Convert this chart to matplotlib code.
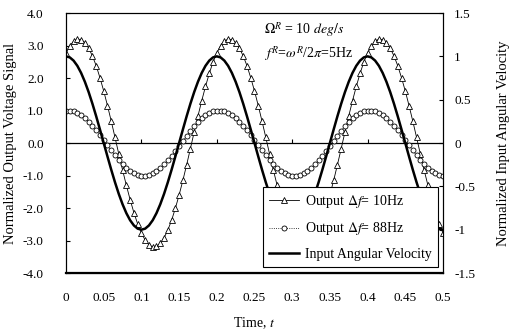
import numpy as np
import matplotlib
matplotlib.use("Agg")
import matplotlib.pyplot as plt

plt.rcParams['font.family'] = ['Liberation Serif', 'DejaVu Serif']
plt.rcParams['mathtext.fontset'] = 'stix'
plt.rcParams['font.size'] = 9.5

# sample times (s), one point every 5 ms
time_s = np.round(np.arange(0, 0.5001, 0.005), 3)

# output, delta f = 10 Hz (left axis)
out_10hz = [2.77, 2.99, 3.13, 3.20, 3.18, 3.09, 2.92, 2.68, 2.38, 2.01,
            1.60, 1.15, 0.67, 0.17, -0.34, -0.83, -1.30, -1.74, -2.14, -2.49,
            -2.77, -2.99, -3.13, -3.20, -3.18, -3.09, -2.92, -2.68, -2.38, -2.01,
            -1.60, -1.15, -0.67, -0.17, 0.34, 0.83, 1.30, 1.74, 2.14, 2.49,
            2.77, 2.99, 3.13, 3.20, 3.18, 3.09, 2.92, 2.68, 2.38, 2.01,
            1.60, 1.15, 0.67, 0.17, -0.34, -0.83, -1.30, -1.74, -2.14, -2.49,
            -2.77, -2.99, -3.13, -3.20, -3.18, -3.09, -2.92, -2.68, -2.38, -2.01,
            -1.60, -1.15, -0.67, -0.17, 0.34, 0.83, 1.30, 1.74, 2.14, 2.49,
            2.77, 2.99, 3.13, 3.20, 3.18, 3.09, 2.92, 2.68, 2.38, 2.01,
            1.60, 1.15, 0.67, 0.17, -0.34, -0.83, -1.30, -1.74, -2.14, -2.49,
            -2.77]

# output, delta f = 88 Hz (left axis)
out_88hz = [1.00, 1.00, 0.97, 0.93, 0.86, 0.77, 0.66, 0.53, 0.39, 0.24,
            0.09, -0.07, -0.23, -0.38, -0.52, -0.64, -0.76, -0.85, -0.92, -0.97,
            -1.00, -1.00, -0.97, -0.93, -0.86, -0.77, -0.66, -0.53, -0.39, -0.24,
            -0.09, 0.07, 0.23, 0.38, 0.52, 0.64, 0.76, 0.85, 0.92, 0.97,
            1.00, 1.00, 0.97, 0.93, 0.86, 0.77, 0.66, 0.53, 0.39, 0.24,
            0.09, -0.07, -0.23, -0.38, -0.52, -0.64, -0.76, -0.85, -0.92, -0.97,
            -1.00, -1.00, -0.97, -0.93, -0.86, -0.77, -0.66, -0.53, -0.39, -0.24,
            -0.09, 0.07, 0.23, 0.38, 0.52, 0.64, 0.76, 0.85, 0.92, 0.97,
            1.00, 1.00, 0.97, 0.93, 0.86, 0.77, 0.66, 0.53, 0.39, 0.24,
            0.09, -0.07, -0.23, -0.38, -0.52, -0.64, -0.76, -0.85, -0.92, -0.97,
            -1.00]

# input angular velocity (right axis)
input_vel = [1.000, 0.988, 0.951, 0.891, 0.809, 0.707, 0.588, 0.454, 0.309, 0.156,
             0.000, -0.156, -0.309, -0.454, -0.588, -0.707, -0.809, -0.891, -0.951, -0.988,
             -1.000, -0.988, -0.951, -0.891, -0.809, -0.707, -0.588, -0.454, -0.309, -0.156,
             0.000, 0.156, 0.309, 0.454, 0.588, 0.707, 0.809, 0.891, 0.951, 0.988,
             1.000, 0.988, 0.951, 0.891, 0.809, 0.707, 0.588, 0.454, 0.309, 0.156,
             0.000, -0.156, -0.309, -0.454, -0.588, -0.707, -0.809, -0.891, -0.951, -0.988,
             -1.000, -0.988, -0.951, -0.891, -0.809, -0.707, -0.588, -0.454, -0.309, -0.156,
             0.000, 0.156, 0.309, 0.454, 0.588, 0.707, 0.809, 0.891, 0.951, 0.988,
             1.000, 0.988, 0.951, 0.891, 0.809, 0.707, 0.588, 0.454, 0.309, 0.156,
             0.000, -0.156, -0.309, -0.454, -0.588, -0.707, -0.809, -0.891, -0.951, -0.988,
             -1.000]

x_ticks = [0, 0.05, 0.1, 0.15, 0.2, 0.25, 0.3, 0.35, 0.4, 0.45, 0.5]
x_labels = ['0', '0.05', '0.1', '0.15', '0.2', '0.25', '0.3', '0.35', '0.4', '0.45', '0.5']
zero_marks = [0.1, 0.2, 0.3, 0.4]
left_ticks = [-4, -3, -2, -1, 0, 1, 2, 3, 4]
right_ticks = [-1.5, -1, -0.5, 0, 0.5, 1, 1.5]
right_labels = ['-1.5', '-1', '-0.5', '0', '0.5', '1', '1.5']

fig = plt.figure(figsize=(5.13, 3.34), dpi=100)
ax = fig.add_axes([0.1287, 0.1826, 0.7348, 0.7784])
ax2 = ax.twinx()

ax.axhline(0, color='black', lw=0.9, zorder=1)
ax.plot(zero_marks, [0] * len(zero_marks), ls='none', marker=2, ms=3, color='black', mew=0.8)

l1, = ax.plot(time_s, out_10hz, color='black', lw=0.6, marker='^', ms=4,
              mfc='white', mec='black', mew=0.6, label=r'Output $\Delta f$= 10Hz', zorder=3)
l2, = ax.plot(time_s, out_88hz, color='black', lw=0.6, ls=':', marker='o', ms=3.6,
              mfc='white', mec='black', mew=0.6, label=r'Output $\Delta f$= 88Hz', zorder=3)
l3, = ax2.plot(time_s, input_vel, color='black', lw=1.8, label='Input Angular Velocity')

ax.set_xlim(0, 0.5)
ax.set_ylim(-4, 4)
ax2.set_ylim(-1.5, 1.5)

ax.set_xticks(x_ticks)
ax.set_xticklabels(x_labels)
ax.set_yticks(left_ticks)
ax.set_yticklabels(['%.1f' % v for v in left_ticks])
ax2.set_yticks(right_ticks)
ax2.set_yticklabels(right_labels)

ax.tick_params(axis='x', length=0, pad=14)
ax.tick_params(axis='y', direction='in', length=3, pad=16)
ax2.tick_params(axis='y', direction='in', length=3, pad=8)

for a in (ax, ax2):
    for s in a.spines.values():
        s.set_linewidth(0.8)
ax.spines['bottom'].set_linewidth(1.6)

ax.set_xlabel(r'Time, $t$', labelpad=8, fontsize=10)
ax.set_ylabel('Normalized Output Voltage Signal', labelpad=4, fontsize=10.5)
ax2.set_ylabel('Normalized Input Angular Velocity', rotation=90, labelpad=16, fontsize=10.5)

ax.text(0.525, 0.935, r'$\Omega^R$ = 10 $deg/s$', transform=ax.transAxes, fontsize=10, va='center')
ax.text(0.525, 0.84, r'$f^R$=$\omega^R$/2$\pi$=5Hz', transform=ax.transAxes, fontsize=10, va='center')

ax2.set_zorder(ax.get_zorder() + 1)
ax2.patch.set_visible(False)
leg = ax2.legend(handles=[l1, l2, l3], loc='lower right', bbox_to_anchor=(0.987, 0.023),
                 numpoints=1, fancybox=False, edgecolor='black', framealpha=1,
                 fontsize=10, handlelength=2.2, labelspacing=0.75, borderpad=0.45,
                 handletextpad=0.4, borderaxespad=0)
leg.get_frame().set_linewidth(0.8)

fig.savefig('out.png', dpi=100)
